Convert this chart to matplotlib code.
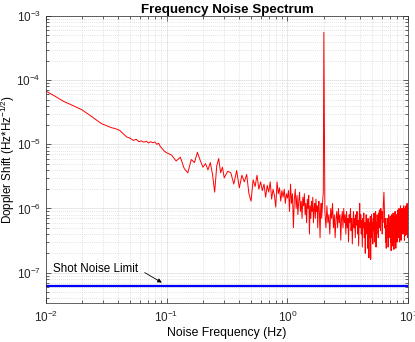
import matplotlib.pyplot as plt
import numpy as np

plt.rcParams['font.family'] = ['Liberation Sans', 'DejaVu Sans']
plt.rcParams['mathtext.default'] = 'regular'

# frequencies in mHz, amplitudes in units of 1e-7 Hz/sqrt(Hz)
freq_low_mhz = [10, 12, 14, 16, 18, 20, 23, 26, 29, 32, 35, 38, 41, 44, 47, 50,
                53, 56, 59, 62, 65, 68, 71, 74, 77, 80, 83, 86, 89, 92, 95, 98]
amp_low = [680, 560, 470, 420, 378, 345, 287, 243, 210, 195, 182, 175, 165, 145, 130, 125,
           115, 120, 110, 113, 108, 112, 105, 110, 106, 109, 100, 104, 92, 86, 80, 76]

freq_mid_mhz = [100, 110, 120, 130, 140, 150, 160, 170, 180, 190, 200, 210, 220, 230, 240,
                250, 260, 270, 280, 290, 300,
                320, 340, 360, 380, 400, 420, 440, 460, 480, 500, 520, 540, 560, 580, 600,
                620, 640, 660, 680, 700, 720, 740, 760, 780, 800, 820, 840, 860, 880, 900,
                920, 940, 960, 980, 1000]
amp_mid = [74, 68, 55, 63, 42, 36, 58, 52, 75, 56, 44, 50, 40, 52, 34, 18, 46, 60, 36, 44, 30,
           38, 36, 24, 39, 21, 33, 26, 34, 17, 13, 28, 22, 33, 20, 26, 19, 24, 15, 23, 18,
           26, 14, 20, 16, 10.5, 26, 17, 21, 13, 19, 15, 20, 12, 17, 14.5]

freq_band_mhz = [1020, 1040, 1060, 1080, 1100, 1120, 1140, 1160, 1180, 1200,
                 1220, 1240, 1260, 1280, 1300, 1320, 1340, 1360, 1380, 1400,
                 1420, 1440, 1460, 1480, 1500, 1520, 1540, 1560, 1580, 1600,
                 1620, 1640, 1660, 1680, 1700, 1720, 1740, 1760, 1780, 1800,
                 1820, 1840, 1860, 1880, 1900, 1920, 1940, 1960, 1980, 2000]
amp_band = [19, 9, 24, 12, 17, 5, 14, 20, 10, 16,
            8, 13, 18, 9, 13, 7, 15, 11, 17, 8,
            12, 6, 14, 10, 16, 4, 11, 7, 13, 9,
            15, 6, 10, 12, 7, 14, 9, 11, 5, 10,
            13, 8, 3.5, 9, 12, 7, 10, 14, 18, 5600]

freq_high_mhz = [
    2040, 2080, 2120, 2160, 2200, 2240, 2280, 2320, 2360, 2400, 2440, 2480, 2520,
    2560, 2600, 2640, 2680, 2720, 2760, 2800, 2840, 2880, 2920, 2960, 3000,
    3040, 3080, 3120, 3160, 3200, 3240, 3280, 3320, 3360, 3400, 3440, 3480, 3520,
    3560, 3600, 3640, 3680, 3720, 3760, 3800, 3840, 3880, 3920, 3960, 4000,
    4040, 4080, 4120, 4160, 4200, 4240, 4280, 4320, 4360, 4400, 4440, 4480, 4520,
    4560, 4600, 4640, 4680, 4720, 4760, 4800, 4840, 4880, 4920, 4960, 5000,
    5040, 5080, 5120, 5160, 5200, 5240, 5280, 5320, 5360, 5400, 5440, 5480, 5520,
    5560, 5600, 5640, 5680, 5720, 5760, 5800, 5840, 5880, 5920, 5960, 6000,
    6040, 6080, 6120, 6160, 6200, 6240, 6280, 6320, 6360, 6400, 6440, 6480, 6520,
    6560, 6600, 6640, 6680, 6720, 6760, 6800, 6840, 6880, 6920, 6960, 7000,
    7040, 7080, 7120, 7160, 7200, 7240, 7280, 7320, 7360, 7400, 7440, 7480, 7520,
    7560, 7600, 7640, 7680, 7720, 7760, 7800, 7840, 7880, 7920, 7960, 8000,
    8040, 8080, 8120, 8160, 8200, 8240, 8280, 8320, 8360, 8400, 8440, 8480, 8520,
    8560, 8600, 8640, 8680, 8720, 8760, 8800, 8840, 8880, 8920, 8960, 9000,
    9040, 9080, 9120, 9160, 9200, 9240, 9280, 9320, 9360, 9400, 9440, 9480, 9520,
    9560, 9600, 9640, 9680, 9720, 9760, 9800, 9840, 9880, 9920, 9960, 10000]
amp_high = [
    9, 5, 11, 6, 8, 4, 10, 7, 12, 5, 8, 3.5, 7, 9, 5, 10, 6, 8, 3.2, 7, 9, 5, 10, 6, 8,
    4, 9, 5, 7, 3, 8, 6, 10, 4.5, 7, 2.8, 6, 9, 5, 7, 3.5, 8, 5.5, 9, 4, 6.5, 2.6, 7, 12, 5,
    8, 4, 6.5, 2.5, 7, 5, 8.5, 3.5, 6, 2.0, 5.5, 8, 4, 6.5, 2.4, 7, 4.5, 1.7, 6, 3.5, 7.5, 1.6, 5, 8, 3.5,
    6, 2.8, 7, 4.5, 8.5, 3, 6.5, 5, 9, 2.5, 6, 4, 8, 5, 7, 3.5, 8.5, 6, 9.5, 5, 8, 4.5, 10, 7, 9,
    7, 4, 9, 6, 11, 14, 18, 12, 9, 5, 7, 3, 5.5, 2.4, 5, 3.5, 7, 4, 6, 2.5, 5.5, 8, 3.5, 6, 4.5,
    4, 7.5, 3, 6, 2.2, 5, 8, 4, 6.5, 2.6, 5.5, 8.5, 3.5, 6, 2.3, 5, 7.5, 4, 9, 3, 6, 2.4, 5.5, 8, 4,
    6.5, 3, 8, 5, 9.5, 3.5, 7, 4.5, 10, 5, 7.5, 3, 8.5, 6, 11, 4, 7, 3.2, 9, 5.5, 10, 4, 7.5, 5, 10,
    4, 8, 5.5, 11, 4.5, 8.5, 3.2, 7, 10, 5, 9, 3.8, 7.5, 11, 5, 9, 4, 8, 12, 6, 9.5, 3.5, 8, 5.5, 10]

shot_noise = 6.1e-8

freq_hz = np.array(freq_low_mhz + freq_mid_mhz + freq_band_mhz + freq_high_mhz) / 1000.0
amp = np.array(amp_low + amp_mid + amp_band + amp_high) * 1e-7

fig = plt.figure(figsize=(4.15, 3.42), dpi=100)
ax = fig.add_axes([0.110, 0.115, 0.874, 0.838])

ax.loglog(freq_hz, amp, color=(1, 0, 0), lw=0.7)
ax.axhline(shot_noise, color=(0, 0, 1), lw=1.6)

ax.set_xlim(1e-2, 1e1)
ax.set_ylim(3.4e-8, 1e-3)

ax.text(0.0116, 1.15e-7, 'Shot Noise Limit', fontsize=8.4, ha='left', va='center')
ax.annotate('', xy=(0.0914, 7.0e-8), xytext=(0.066, 1.0e-7),
            arrowprops=dict(arrowstyle='-|>', color='k', lw=0.6,
                            mutation_scale=6, shrinkA=0, shrinkB=0))

ax.set_axisbelow(True)
ax.grid(True, which='major', color='#dedede', lw=0.5, ls='-')
ax.grid(True, which='minor', color='#c8c8c8', lw=0.5, ls=(0, (1, 2)))

ax.tick_params(which='both', direction='in', top=True, right=True,
               colors='#262626', labelsize=8.5)
ax.tick_params(which='major', length=3.5, width=0.5)
ax.tick_params(which='minor', length=2, width=0.5)
ax.tick_params(axis='x', which='major', pad=5)
for s in ax.spines.values():
    s.set_color('#262626')
    s.set_linewidth(0.5)

ax.set_title('Frequency Noise Spectrum', fontsize=9.6, fontweight='bold', pad=2)
ax.set_xlabel('Noise Frequency (Hz)', fontsize=8.8)
ax.set_ylabel('Doppler Shift (Hz*Hz$^{-1/2}$)', fontsize=8.4)
ax.xaxis.set_label_coords(0.5, -0.086)
ax.yaxis.set_label_coords(-0.078, 0.5)

fig.savefig('out.png', dpi=100)
